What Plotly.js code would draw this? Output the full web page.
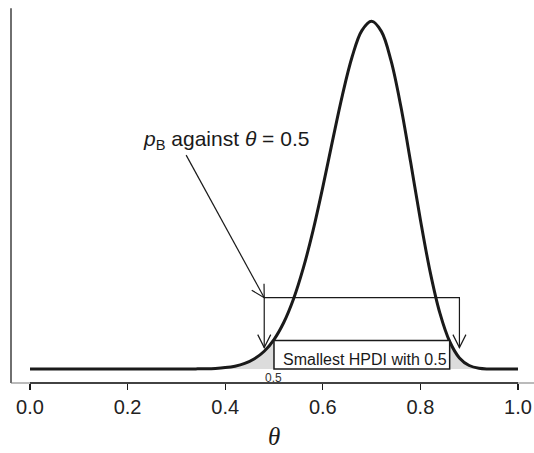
<!DOCTYPE html>
<html>
<head>
<meta charset="utf-8">
<script src="https://cdn.plot.ly/plotly-3.0.1.min.js"></script>
<style>
  html, body { margin: 0; padding: 0; background: #fff; }
  #plot { width: 534px; height: 453px; }
</style>
</head>
<body>
<div id="plot"></div>
<script>
// Posterior density of theta
const theta = [0, 0.1, 0.2, 0.3, 0.34, 0.36, 0.38, 0.40, 0.42, 0.44, 0.46, 0.48, 0.50,
  0.52, 0.54, 0.56, 0.58, 0.60, 0.62, 0.64, 0.66, 0.68, 0.70, 0.72, 0.74, 0.76, 0.78,
  0.80, 0.82, 0.84, 0.86, 0.88, 0.90, 0.92, 0.94, 0.96, 1.0];
const density = [0, 0, 0, 0, 0.002, 0.004, 0.009, 0.020, 0.040, 0.078, 0.144, 0.249, 0.413,
  0.652, 0.982, 1.414, 1.941, 2.550, 3.203, 3.835, 4.375, 4.746, 4.876, 4.735, 4.320, 3.681, 2.902,
  2.095, 1.363, 0.783, 0.386, 0.156, 0.049, 0.010, 0.001, 0, 0];

// Smallest HPD interval that has 0.5 as its lower end
const hpdLower = 0.5;
const hpdUpper = 0.86;
const hpdHeight = 0.40;
const hpdLabel = 'Smallest HPDI with 0.5';
const hpdLowerLabel = '0.5';

// Bracket marking the two tail areas that make up p_B
const bracketLeft = 0.48;
const bracketRight = 0.88;
const bracketTop = 1.0;
const bracketTip = 0.30;
const pLabelText = '<i>p</i><sub>B</sub> against <i>θ</i> = 0.5';
const pLabelX = 0.402, pLabelY = 3.21;
const pArrowTailX = 0.32, pArrowTailY = 3.0;

const tickVals = [0, 0.2, 0.4, 0.6, 0.8, 1.0];
const tickText = ['0.0', '0.2', '0.4', '0.6', '0.8', '1.0'];
const xTitle = '<i>θ</i>';

const leftIdx = theta.map((t, i) => i).filter(i => theta[i] <= hpdLower);
const rightIdx = theta.map((t, i) => i).filter(i => theta[i] >= hpdUpper);

const tailFill = '#dcdcdc';
const ink = '#1a1a1a';
const sans = 'Liberation Sans, Arial, Helvetica, sans-serif';

const traces = [
  {
    x: leftIdx.map(i => theta[i]), y: leftIdx.map(i => density[i]),
    type: 'scatter', mode: 'lines', fill: 'tozeroy', fillcolor: tailFill,
    line: { width: 0, shape: 'spline', smoothing: 1 }, hoverinfo: 'skip'
  },
  {
    x: rightIdx.map(i => theta[i]), y: rightIdx.map(i => density[i]),
    type: 'scatter', mode: 'lines', fill: 'tozeroy', fillcolor: tailFill,
    line: { width: 0, shape: 'spline', smoothing: 1 }, hoverinfo: 'skip'
  },
  {
    x: theta, y: density, type: 'scatter', mode: 'lines',
    line: { color: ink, width: 3, shape: 'spline', smoothing: 1 }
  }
];

const thin = { color: ink, width: 1.2 };
const shapes = [
  // frame: left side and bottom
  { type: 'line', xref: 'paper', yref: 'paper', x0: 0, x1: 0, y0: 0, y1: 0.997,
    line: { color: '#333', width: 1.4 } },
  { type: 'line', xref: 'paper', yref: 'paper', x0: 0, x1: 1, y0: 0, y1: 0,
    line: { color: '#777', width: 1.2 } },
  // x axis line between first and last tick
  { type: 'line', xref: 'x', yref: 'paper', x0: 0, x1: 1, y0: 0, y1: 0,
    line: { color: ink, width: 1.6 } },
  // HPDI box
  { type: 'rect', xref: 'x', yref: 'y', x0: hpdLower, x1: hpdUpper, y0: 0, y1: hpdHeight,
    fillcolor: '#fff', line: { color: ink, width: 1.5 }, layer: 'above' },
  // bracket
  { type: 'path', xref: 'x', yref: 'y',
    path: `M${bracketLeft},${bracketTip} L${bracketLeft},${bracketTop} L${bracketRight},${bracketTop} L${bracketRight},${bracketTip}`,
    line: thin },
  // bracket arrowheads
  { type: 'path', xref: 'x', yref: 'y', xsizemode: 'pixel', ysizemode: 'pixel',
    xanchor: bracketLeft, yanchor: bracketTip, path: 'M-6.5,13 L0,0 L6.5,13', line: thin },
  { type: 'path', xref: 'x', yref: 'y', xsizemode: 'pixel', ysizemode: 'pixel',
    xanchor: bracketRight, yanchor: bracketTip, path: 'M-6.5,13 L0,0 L6.5,13', line: thin },
  // pointer from the label
  { type: 'line', xref: 'x', yref: 'y', x0: pArrowTailX, y0: pArrowTailY, x1: bracketLeft, y1: bracketTop,
    line: thin },
  { type: 'path', xref: 'x', yref: 'y', xsizemode: 'pixel', ysizemode: 'pixel',
    xanchor: bracketLeft, yanchor: bracketTop, path: 'M-12.5,7.5 L0,0 L-0.2,14', line: thin }
];

const annotations = [
  { x: pLabelX, y: pLabelY, xref: 'x', yref: 'y', text: pLabelText, showarrow: false,
    xanchor: 'center', yanchor: 'middle', font: { family: sans, size: 21, color: ink } },
  { x: 0.686, y: 0.13, xref: 'x', yref: 'y', text: hpdLabel, showarrow: false,
    xanchor: 'center', yanchor: 'middle', font: { family: sans, size: 16, color: ink } },
  { x: hpdLower, y: -0.13, xref: 'x', yref: 'y', text: hpdLowerLabel, showarrow: false,
    xanchor: 'center', yanchor: 'middle', font: { family: sans, size: 12, color: '#333' } },
  // axis title
  { x: 0.5, y: -0.141, xref: 'x', yref: 'paper', text: xTitle, showarrow: false,
    xanchor: 'center', yanchor: 'middle',
    font: { family: 'Liberation Serif, Times New Roman, serif', size: 25, color: ink } }
];

const layout = {
  width: 534, height: 453,
  margin: { l: 11, r: 0, t: 7, b: 70, pad: 0 },
  paper_bgcolor: '#fff', plot_bgcolor: '#fff',
  showlegend: false,
  xaxis: {
    range: [-0.0389, 1.0328], tickvals: tickVals, ticktext: tickText,
    ticks: 'outside', ticklen: 6, tickwidth: 1.3, tickcolor: ink,
    showgrid: false, zeroline: false, showline: false,
    tickfont: { family: sans, size: 20, color: '#222' }
  },
  yaxis: {
    range: [-0.196, 5.077], visible: false, showgrid: false, zeroline: false
  },
  shapes: shapes,
  annotations: annotations
};

Plotly.newPlot('plot', traces, layout, { displayModeBar: false, staticPlot: true });
</script>
</body>
</html>
